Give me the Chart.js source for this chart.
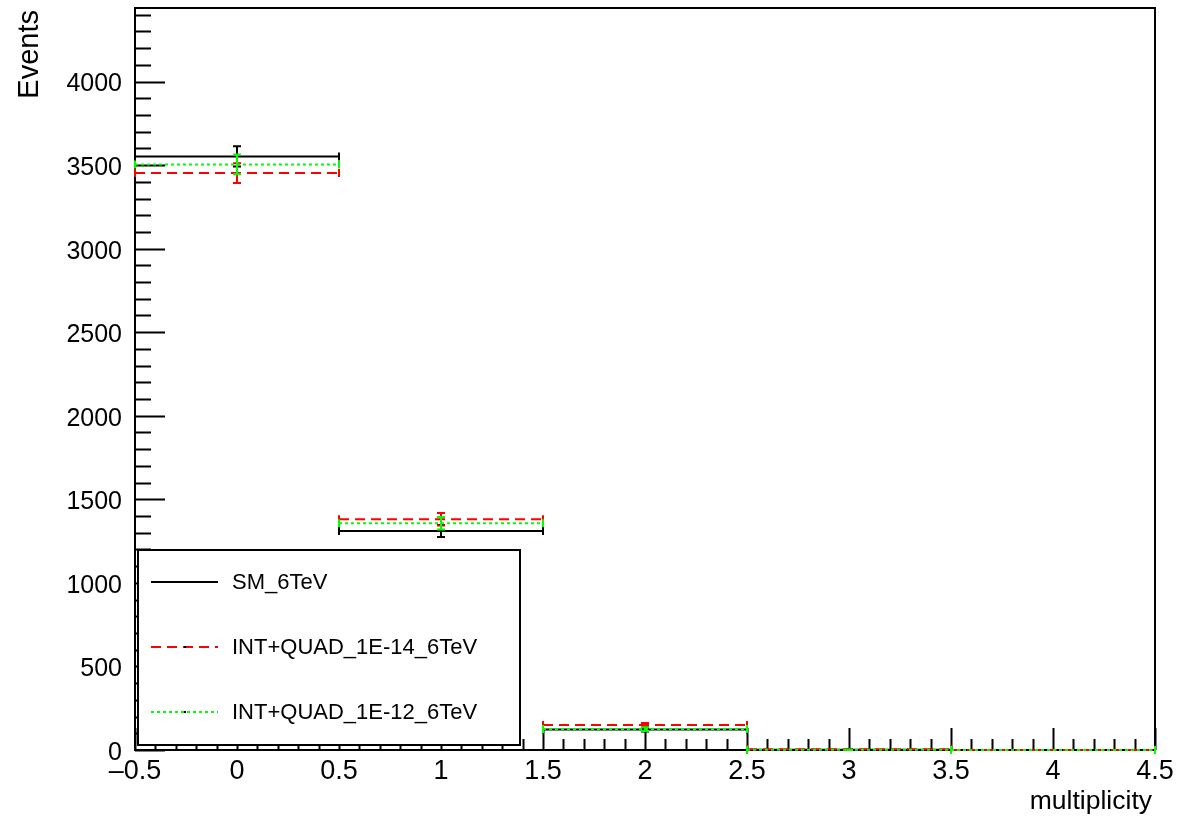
<!DOCTYPE html>
<html>
<head>
<meta charset="utf-8">
<script src="https://cdn.jsdelivr.net/npm/chart.js@4"></script>
<style>
  body { margin: 0; background: #fff; }
  canvas { display: block; }
</style>
</head>
<body>
<canvas id="multChart" width="1198" height="819"></canvas>
<script>
// Histogram bins (multiplicity)
const binCenters = [0, 1, 2, 3, 4];
const smValues = [3552, 1311, 122, 1, 0];
const smErrors = [60, 36, 11, 1, 0];
const quad14Values = [3452, 1381, 149, 4, 0];
const quad14Errors = [59, 37, 12, 2, 0];
const quad12Values = [3504, 1357, 125, 1, 0];
const quad12Errors = [59, 37, 11, 1, 0];

const xTickValues = [-0.5, 0, 0.5, 1, 1.5, 2, 2.5, 3, 3.5, 4, 4.5];
const yTickValues = [0, 500, 1000, 1500, 2000, 2500, 3000, 3500, 4000];
const seriesNames = ["SM_6TeV", "INT+QUAD_1E-14_6TeV", "INT+QUAD_1E-12_6TeV"];

const FONT = "'Liberation Sans', Arial, Helvetica, sans-serif";

// each bin -> flat segment, separated by gaps
function segments(values) {
    const pts = [];
    binCenters.forEach((c, i) => {
        pts.push({ x: c - 0.5, y: values[i] }, { x: c + 0.5, y: values[i] }, { x: c + 0.5, y: null });
    });
    return pts;
}

function series(label, values, errors, color, dash, order) {
    return {
        label, values, errors, order,
        data: segments(values),
        borderColor: color,
        borderWidth: 2,
        borderDash: dash,
        pointRadius: 0,
        spanGaps: false,
        clip: false,
        tension: 0
    };
}

// ROOT-like frame with inner ticks
const framePlugin = {
    id: "frame",
    beforeDatasetsDraw(chart) {
        const { ctx, chartArea: a, scales: { x, y } } = chart;
        ctx.save();
        ctx.strokeStyle = "#000";
        ctx.lineWidth = 2;
        ctx.beginPath();
        // y ticks (minor every 100, major every 500)
        for (let v = 0; v <= y.max; v += 100) {
            const py = Math.round(y.getPixelForValue(v)) + 0.5;
            const len = v % 500 === 0 ? 30 : 16;
            ctx.moveTo(a.left, py);
            ctx.lineTo(a.left + len, py);
        }
        // x ticks (minor every 0.1, major every 0.5)
        for (let k = 0; k <= 50; k++) {
            const v = -0.5 + k * 0.1;
            const px = Math.round(x.getPixelForValue(v)) + 0.5;
            const len = k % 5 === 0 ? 22 : 11;
            ctx.moveTo(px, a.bottom);
            ctx.lineTo(px, a.bottom - len);
        }
        ctx.stroke();
        ctx.strokeRect(a.left, a.top, a.right - a.left, a.bottom - a.top);
        ctx.restore();
    },
    afterDatasetDraw(chart, args) {
        const ds = chart.data.datasets[args.index];
        const { ctx, scales: { x, y } } = chart;
        ctx.save();
        ctx.strokeStyle = ds.borderColor;
        ctx.lineWidth = 2;
        ctx.beginPath();
        binCenters.forEach((c, i) => {
            const v = ds.values[i], e = ds.errors[i];
            const px = x.getPixelForValue(c);
            const py = y.getPixelForValue(v);
            // bin edge caps
            [c - 0.5, c + 0.5].forEach(edge => {
                const ex = x.getPixelForValue(edge);
                ctx.moveTo(ex, py - 4);
                ctx.lineTo(ex, py + 4);
            });
            if (e > 0) {
                const top = y.getPixelForValue(v + e), bot = y.getPixelForValue(v - e);
                ctx.moveTo(px, top); ctx.lineTo(px, bot);
                ctx.moveTo(px - 4, top); ctx.lineTo(px + 4, top);
                ctx.moveTo(px - 4, bot); ctx.lineTo(px + 4, bot);
            }
        });
        ctx.stroke();
        ctx.restore();
    },
    afterDraw(chart) {
        const { ctx, chartArea: a } = chart;
        ctx.save();
        // axis titles
        ctx.fillStyle = "#000";
        ctx.font = "26.5px " + FONT;
        ctx.textAlign = "right";
        ctx.textBaseline = "alphabetic";
        ctx.fillText("multiplicity", a.right - 3, 809);
        ctx.font = "29px " + FONT;
        ctx.translate(38, a.top + 2);
        ctx.rotate(-Math.PI / 2);
        ctx.fillText("Events", 0, 0);
        ctx.restore();

        // legend box
        ctx.save();
        const lx = a.left + 3, ly = 550, lw = 382, lh = a.bottom - 5 - ly;
        ctx.fillStyle = "#fff";
        ctx.fillRect(lx, ly, lw, lh);
        ctx.strokeStyle = "#000";
        ctx.lineWidth = 2;
        ctx.strokeRect(lx, ly, lw, lh);
        const rows = [582, 647, 712];
        const sets = [0, 1, 2].map(i => chart.data.datasets[i]);
        ctx.font = "22px " + FONT;
        ctx.textAlign = "left";
        ctx.textBaseline = "middle";
        sets.forEach((ds, i) => {
            ctx.strokeStyle = ds.borderColor;
            ctx.setLineDash(ds.borderDash || []);
            ctx.beginPath();
            ctx.moveTo(lx + 13, rows[i]);
            ctx.lineTo(lx + 80, rows[i]);
            ctx.stroke();
            ctx.setLineDash([]);
            if (i > 0) {
                ctx.fillStyle = "#000";
                ctx.fillRect(lx + 46, rows[i] - 1, 2, 2);
            }
            ctx.fillStyle = "#000";
            ctx.fillText(seriesNames[i], lx + 94, rows[i] + 1);
        });
        ctx.restore();
    }
};

const ctx = document.getElementById("multChart").getContext("2d");
new Chart(ctx, {
    type: "line",
    data: {
        datasets: [
            series(seriesNames[0], smValues, smErrors, "#000000", [], 3),
            series(seriesNames[1], quad14Values, quad14Errors, "#ff0000", [10, 6], 2),
            series(seriesNames[2], quad12Values, quad12Errors, "#00ff00", [3, 3], 1)
        ]
    },
    options: {
        responsive: false,
        animation: false,
        layout: { padding: { top: 8, right: 43, left: 0, bottom: 0 } },
        plugins: { legend: { display: false }, tooltip: { enabled: false } },
        scales: {
            x: {
                type: "linear",
                min: -0.5,
                max: 4.5,
                grid: { display: false, drawTicks: false },
                border: { display: false },
                ticks: {
                    color: "#000",
                    font: { family: FONT, size: 27 },
                    padding: 5,
                    maxRotation: 0,
                    autoSkip: false,
                    callback: v => String(v).replace("-", "\u2013")
                },
                afterBuildTicks: s => { s.ticks = xTickValues.map(v => ({ value: v })); },
                afterFit: s => { s.height = 69; s.paddingLeft = 0; s.paddingRight = 0; }
            },
            y: {
                min: 0,
                max: 4440,
                grid: { display: false, drawTicks: false },
                border: { display: false },
                ticks: {
                    color: "#000",
                    font: { family: FONT, size: 25 },
                    padding: 13,
                    labelOffset: 3,
                    callback: v => String(v)
                },
                afterBuildTicks: s => { s.ticks = yTickValues.map(v => ({ value: v })); },
                afterFit: s => { s.width = 135; s.paddingTop = 0; s.paddingBottom = 0; }
            }
        }
    },
    plugins: [framePlugin]
});
</script>
</body>
</html>
